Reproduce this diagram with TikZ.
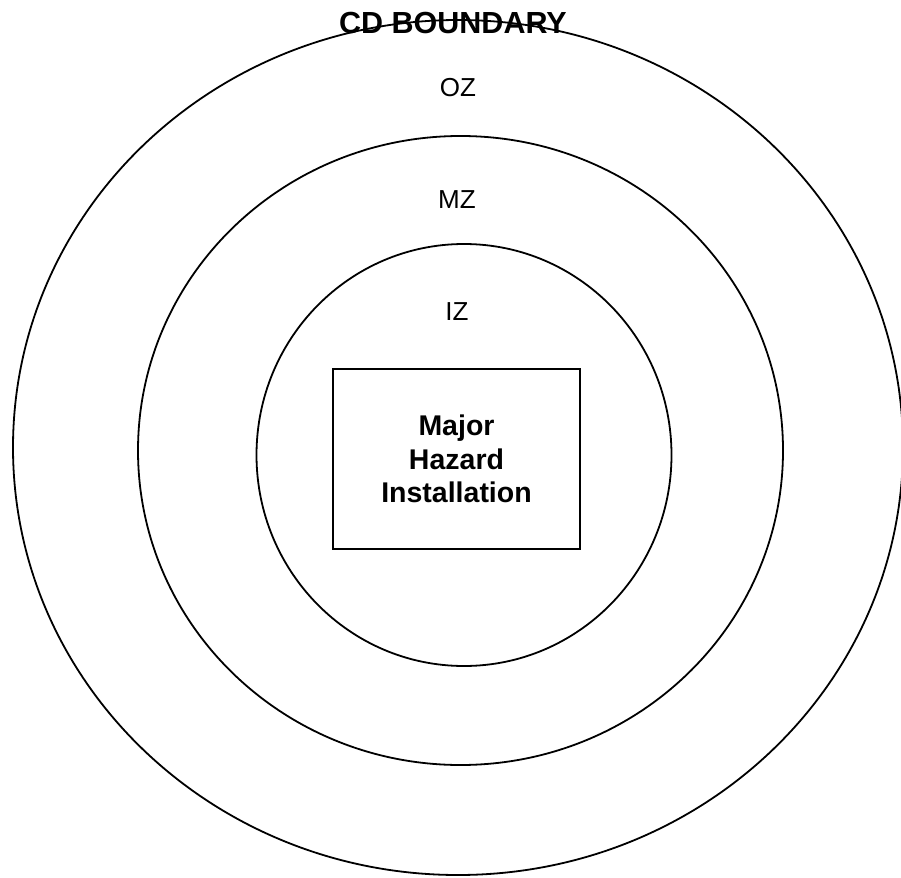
\documentclass[tikz,border=0pt]{standalone}
\usepackage{fontspec}
\setmainfont{Liberation Sans}
\begin{document}
\begin{tikzpicture}[x=1pt,y=-1pt,
  ring/.style={draw=black,line width=1.8pt},
  zonelabel/.style={font=\fontsize{26}{30}\selectfont},
  boxstyle/.style={draw=black,line width=1.4pt,minimum width=247pt,minimum height=180pt,align=center,font=\bfseries\fontsize{28.5}{33.5}\selectfont}]
\useasboundingbox (0,0) rectangle (901,877);
\draw[ring] (458,447.5) ellipse [x radius=445, y radius=427.5];
\draw[ring] (460.5,450.5) ellipse [x radius=322.5, y radius=314.5];
\draw[ring] (464,455) ellipse [x radius=207.5, y radius=211];
\node[boxstyle] (mhi) at (456.5,459) {Major\\Hazard\\Installation};
\node[font=\bfseries\fontsize{30.5}{33}\selectfont] (cd) at (453,23) {CD BOUNDARY};
\node[zonelabel] (oz) at (458,88) {OZ};
\node[zonelabel] (mz) at (457,200) {MZ};
\node[zonelabel] (iz) at (457,312) {IZ};
\end{tikzpicture}
\end{document}
